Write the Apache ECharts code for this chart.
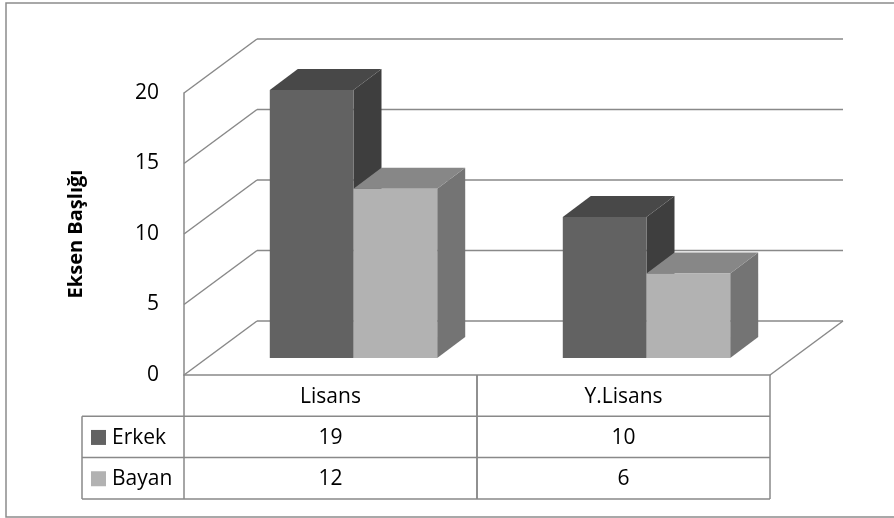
<!DOCTYPE html>
<html>
<head>
<meta charset="utf-8">
<script src="https://cdn.jsdelivr.net/npm/echarts@6/dist/echarts.min.js"></script>
<style>
  html, body { margin: 0; padding: 0; background: #ffffff; }
  #chart { width: 894px; height: 518px; }
</style>
</head>
<body>
<div id="chart"></div>
<script>
// Chart data
const categories = ['Lisans', 'Y.Lisans'];
const seriesNames = ['Erkek', 'Bayan'];
const erkek = [19, 10];
const bayan = [12, 6];
const yTicks = [0, 5, 10, 15, 20];
const axisTitle = 'Eksen Başlığı';

// Oblique 3D projection: wall depth and bar placement within it
const WALL_DX = 73, WALL_DY = -54;
const BAR_FX = 23, BAR_FY = -17;   // offset of bar front faces from the front plane
const BAR_DX = 28, BAR_DY = -21;   // depth of each bar
const LINE = '#898989';
const FONT = '"Open Sans"';
const FONT_SIZE = 21;
const ROW_H = 41.3;

const faceColors = [
  { front: '#626262', top: '#484848', side: '#3e3e3e' },
  { front: '#b2b2b2', top: '#878787', side: '#747474' }
];

function seg(x1, y1, x2, y2) {
  return { type: 'line', shape: { x1, y1, x2, y2 }, style: { stroke: LINE, lineWidth: 1.5 } };
}

// Back wall gridlines, side wall diagonals and the floor outline
function renderFrame(params, api) {
  const cs = params.coordSys;
  const v = api.value(1);
  const y = api.coord([0, v])[1];
  const x0 = cs.x, x1 = cs.x + cs.width;
  const children = [
    seg(x0, y, x0 + WALL_DX, y + WALL_DY),
    seg(x0 + WALL_DX, y + WALL_DY, x1 + WALL_DX, y + WALL_DY)
  ];
  if (v === 0) {
    children.push(seg(x1, y, x1 + WALL_DX, y + WALL_DY));
  }
  return { type: 'group', children };
}

function makeBarRenderer(seriesIdx) {
  return function (params, api) {
    const cat = api.value(0);
    const val = api.value(1);
    const base = api.coord([cat, 0]);
    const topPt = api.coord([cat, val]);
    const band = api.size([1, 0])[0];
    const w = band / 3.5;
    const x = (seriesIdx === 0 ? base[0] - w : base[0]) + BAR_FX;
    const top = topPt[1] + BAR_FY;
    const bottom = base[1] + BAR_FY;
    const c = faceColors[seriesIdx];
    return {
      type: 'group',
      children: [
        { type: 'polygon', shape: { points: [[x + w, top], [x + w + BAR_DX, top + BAR_DY], [x + w + BAR_DX, bottom + BAR_DY], [x + w, bottom]] }, style: { fill: c.side } },
        { type: 'polygon', shape: { points: [[x, top], [x + w, top], [x + w + BAR_DX, top + BAR_DY], [x + BAR_DX, top + BAR_DY]] }, style: { fill: c.top } },
        { type: 'rect', shape: { x: x, y: top, width: w, height: bottom - top }, style: { fill: c.front } }
      ]
    };
  };
}

const valueRows = [erkek, bayan];

// Data table below the floor: one column per category plus the legend column
function renderTable(params, api) {
  const i = api.value(0);
  const p = api.coord([i, 0]);
  const band = api.size([1, 0])[0];
  const cx = p[0];
  const left = cx - band / 2, right = cx + band / 2;
  const y0 = p[1];
  const txt = (text, x, y, align) => ({
    type: 'text',
    style: { text: String(text), x, y, align: align || 'center', verticalAlign: 'middle', fill: '#000', font: FONT_SIZE + 'px ' + FONT }
  });
  const children = [
    seg(left, y0, left, y0 + 3 * ROW_H),
    seg(right, y0, right, y0 + 3 * ROW_H),
    seg(left, y0 + ROW_H, right, y0 + ROW_H),
    seg(left, y0 + 2 * ROW_H, right, y0 + 2 * ROW_H),
    seg(left, y0 + 3 * ROW_H, right, y0 + 3 * ROW_H),
    txt(categories[i], cx, y0 + 0.5 * ROW_H + 1),
    txt(valueRows[0][i], cx, y0 + 1.5 * ROW_H + 1),
    txt(valueRows[1][i], cx, y0 + 2.5 * ROW_H + 1)
  ];
  if (i === 0) {
    const lx = left - 102;
    children.push(
      seg(lx, y0 + ROW_H, left, y0 + ROW_H),
      seg(lx, y0 + 2 * ROW_H, left, y0 + 2 * ROW_H),
      seg(lx, y0 + 3 * ROW_H, left, y0 + 3 * ROW_H),
      seg(lx, y0 + ROW_H, lx, y0 + 3 * ROW_H)
    );
    for (let r = 0; r < 2; r++) {
      const cy = y0 + (1.5 + r) * ROW_H;
      children.push(
        { type: 'rect', shape: { x: lx + 9, y: cy - 7, width: 15, height: 15 }, style: { fill: faceColors[r].front } },
        txt(seriesNames[r], lx + 30, cy + 1, 'left')
      );
    }
  }
  return { type: 'group', children };
}

const chart = echarts.init(document.getElementById('chart'), null, { renderer: 'canvas' });
chart.setOption({
  animation: false,
  backgroundColor: '#ffffff',
  graphic: [{
    type: 'rect', z: -10,
    shape: { x: 6, y: 3, width: 900, height: 514 },
    style: { fill: 'none', stroke: '#8c8c8c', lineWidth: 1.5 }
  }],
  grid: { left: 184, right: 124, top: 93, bottom: 143 },
  xAxis: {
    type: 'category',
    data: categories,
    axisLine: { show: true, lineStyle: { color: LINE, width: 1.5 } },
    axisTick: { show: false },
    axisLabel: { show: false },
    splitLine: { show: false }
  },
  yAxis: {
    type: 'value',
    min: 0, max: 20, interval: 5,
    name: axisTitle,
    nameLocation: 'middle',
    nameGap: 98,
    nameRotate: 90,
    nameTextStyle: { fontFamily: 'Open Sans', fontSize: 20, fontWeight: 'bold', color: '#000' },
    axisLine: { show: true, lineStyle: { color: LINE, width: 1.5 } },
    axisTick: { show: false },
    axisLabel: { margin: 25, fontFamily: 'Open Sans', fontSize: FONT_SIZE, color: '#000' },
    splitLine: { show: false }
  },
  series: [
    {
      type: 'custom', name: 'frame', z: 1, silent: true,
      renderItem: renderFrame,
      data: yTicks.map(v => [0, v])
    },
    {
      type: 'custom', name: seriesNames[0], z: 2,
      renderItem: makeBarRenderer(0),
      data: erkek.map((v, i) => [i, v])
    },
    {
      type: 'custom', name: seriesNames[1], z: 3,
      renderItem: makeBarRenderer(1),
      data: bayan.map((v, i) => [i, v])
    },
    {
      type: 'custom', name: 'table', z: 4, silent: true,
      renderItem: renderTable,
      data: categories.map((c, i) => [i, 0])
    }
  ]
});
</script>
</body>
</html>
